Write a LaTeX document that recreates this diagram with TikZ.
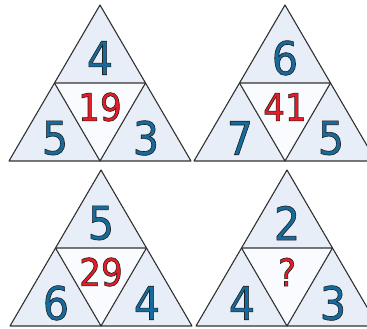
\documentclass[tikz,border=0pt]{standalone}
\usepackage{fontspec}
\setmainfont{DejaVu Sans Condensed}
\definecolor{tri}{RGB}{231,238,247}
\definecolor{ctr}{RGB}{249,251,254}
\definecolor{edge}{RGB}{50,50,50}
\definecolor{numblue}{RGB}{22,106,156}
\definecolor{numred}{RGB}{232,28,38}
\newcommand\outl[1]{\special{pdf:code 2 Tr 0.6 w 0.12 0.12 0.12 RG}#1\special{pdf:code 0 Tr}}
\tikzset{
  trifill/.style={fill=tri},
  ctrfill/.style={fill=ctr},
  edges/.style={draw=edge, line width=1.1pt, line join=round},
  bnum/.style={font=\fontsize{46}{46}\selectfont, text=numblue, inner sep=0pt},
  rnum/.style={font=\fontsize{38}{38}\selectfont, text=numred, inner sep=0pt},
}
\newcommand\trio[7]{%
  \coordinate (#1A) at (#2,#3);
  \coordinate (#1L) at ([shift={(-91,156)}]#1A);
  \coordinate (#1R) at ([shift={(91,156)}]#1A);
  \coordinate (#1ML) at ([shift={(-45.5,78)}]#1A);
  \coordinate (#1MR) at ([shift={(45.5,78)}]#1A);
  \coordinate (#1MB) at ([shift={(0,156)}]#1A);
  \fill[trifill] (#1A) -- (#1L) -- (#1R) -- cycle;
  \fill[ctrfill] (#1ML) -- (#1MR) -- (#1MB) -- cycle;
  \draw[edges] (#1A) -- (#1L) -- (#1R) -- cycle;
  \draw[edges] (#1ML) -- (#1MR) -- (#1MB) -- cycle;
  \node[bnum] (#1t) at ([shift={(0,53)}]#1A) {\outl{#4}};
  \node[bnum] (#1l) at ([shift={(-45,133)}]#1A) {\outl{#5}};
  \node[bnum] (#1r) at ([shift={(46,133)}]#1A) {\outl{#6}};
  \node[rnum] (#1c) at ([shift={(0,102)}]#1A) {\outl{#7}};
}
\begin{document}
\begin{tikzpicture}[x=1pt,y=-1pt]
  \useasboundingbox (0,0) rectangle (367,329);
  \begin{scope}
    \clip (0,0) rectangle (367,329);
    \trio{p}{100}{5}{4}{5}{3}{19}
    \trio{q}{285}{5}{6}{7}{5}{41}
    \trio{r}{101}{170}{5}{6}{4}{29}
    \trio{s}{287}{170}{2}{4}{3}{?}
  \end{scope}
\end{tikzpicture}
\end{document}
